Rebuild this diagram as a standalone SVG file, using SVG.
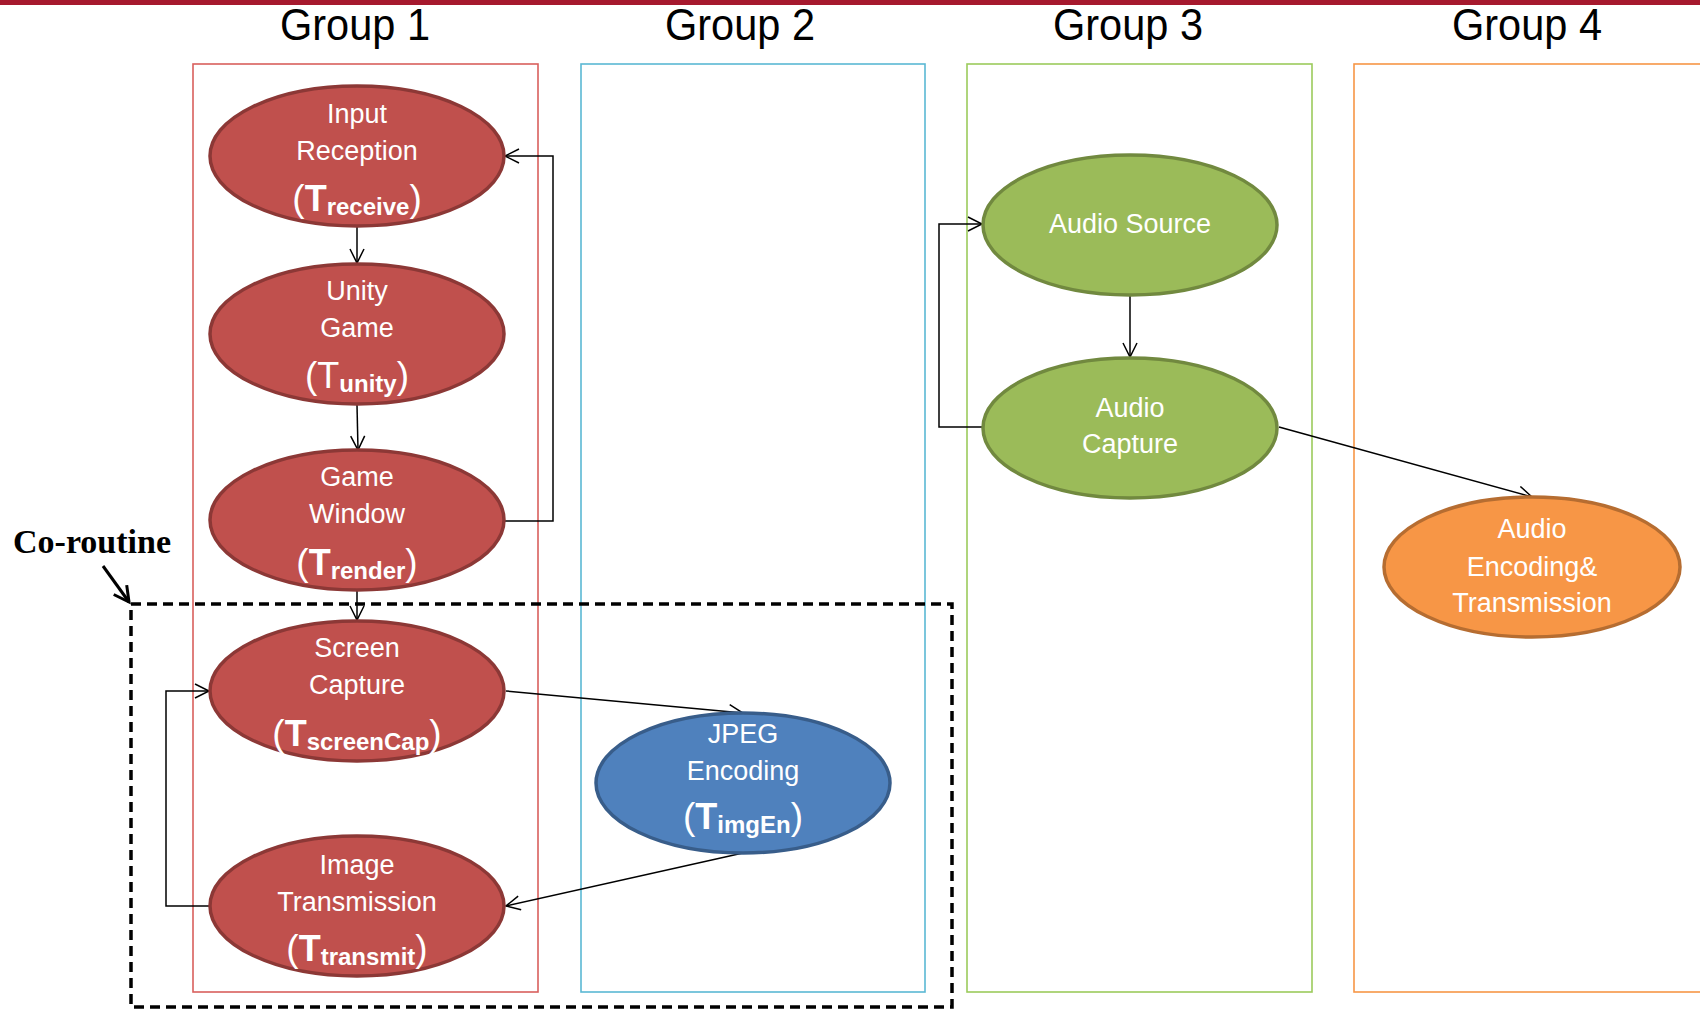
<svg xmlns="http://www.w3.org/2000/svg" width="1700" height="1009" viewBox="0 0 1700 1009">
<style>
.title{font-family:"Liberation Sans",Arial,sans-serif;font-size:44px;fill:#000;text-anchor:middle}
.lbl{font-family:"Liberation Sans",Arial,sans-serif;font-size:27px;fill:#fff;text-anchor:middle}
.p{font-size:37px;font-weight:normal}
.T{font-size:36px;font-weight:bold}
.Tn{font-size:36px;font-weight:normal}
.sub{font-size:24px;font-weight:bold}
.red{fill:#C0504D;stroke:#8C3836;stroke-width:3.5}
.blue{fill:#4F81BD;stroke:#385D8A;stroke-width:3.5}
.green{fill:#9BBB59;stroke:#71893F;stroke-width:3.5}
.orange{fill:#F79646;stroke:#B66D31;stroke-width:3.5}
.conn{fill:none;stroke:#000;stroke-width:1.5}
.grp{fill:none;stroke-width:1.6}
</style>
<defs>
<marker id="arr" markerUnits="userSpaceOnUse" markerWidth="20" markerHeight="20" refX="15" refY="8" orient="auto">
<path d="M1,1 L15,8 L1,15" fill="none" stroke="#000" stroke-width="1.5"/>
</marker>
<marker id="arrB" markerUnits="userSpaceOnUse" markerWidth="24" markerHeight="24" refX="17" refY="10" orient="auto">
<path d="M2,2 L17,10 L2,18" fill="none" stroke="#000" stroke-width="3"/>
</marker>
</defs>
<rect x="0" y="0" width="1700" height="5" fill="#A6192E"/>
<g id="titles">
<text class="title" x="355" y="40" textLength="150" lengthAdjust="spacingAndGlyphs">Group 1</text>
<text class="title" x="740" y="40" textLength="150" lengthAdjust="spacingAndGlyphs">Group 2</text>
<text class="title" x="1128" y="40" textLength="150" lengthAdjust="spacingAndGlyphs">Group 3</text>
<text class="title" x="1527" y="40" textLength="150" lengthAdjust="spacingAndGlyphs">Group 4</text>
</g>
<g id="groups">
<rect id="group1" class="grp" x="193" y="64" width="345" height="928" stroke="#D9605D"/>
<rect id="group2" class="grp" x="581" y="64" width="344" height="928" stroke="#5BB8D4"/>
<rect id="group3" class="grp" x="967" y="64" width="345" height="928" stroke="#9CCB5C"/>
<rect id="group4" class="grp" x="1354" y="64" width="350" height="928" stroke="#F79646"/>
</g>
<g id="coroutine">
<rect x="131" y="604" width="821" height="403" fill="none" stroke="#000" stroke-width="3.5" stroke-dasharray="10,6"/>
<text x="13" y="553" font-family="Liberation Serif,'Times New Roman',serif" font-weight="bold" font-size="34" fill="#000">Co-routine</text>
<line x1="103" y1="566" x2="129" y2="602" stroke="#000" stroke-width="3" marker-end="url(#arrB)"/>
</g>
<g id="connectors">
<line class="conn" x1="357" y1="226" x2="357" y2="263" marker-end="url(#arr)"/>
<line class="conn" x1="357" y1="405" x2="358" y2="450" marker-end="url(#arr)"/>
<line class="conn" x1="357" y1="591" x2="357" y2="620" marker-end="url(#arr)"/>
<polyline class="conn" points="505,521 553,521 553,156 505,156" marker-end="url(#arr)"/>
<line class="conn" x1="506" y1="691" x2="743" y2="713" marker-end="url(#arr)"/>
<line class="conn" x1="743" y1="853" x2="506" y2="906" marker-end="url(#arr)"/>
<polyline class="conn" points="209,906 166,906 166,691 209,691" marker-end="url(#arr)"/>
<line class="conn" x1="1130" y1="295" x2="1130" y2="357" marker-end="url(#arr)"/>
<polyline class="conn" points="982,427 939,427 939,224 982,224" marker-end="url(#arr)"/>
<line class="conn" x1="1279" y1="427" x2="1532" y2="497" marker-end="url(#arr)"/>
</g>
<g id="input-reception">
<ellipse class="red" cx="357" cy="156" rx="147" ry="70"/>
<text class="lbl" x="357" y="123">Input</text>
<text class="lbl" x="357" y="160">Reception</text>
<text class="lbl" x="357" y="211"><tspan class="p">(</tspan><tspan class="T">T</tspan><tspan class="sub" dy="4">receive</tspan><tspan class="p" dy="-4">)</tspan></text>
</g>
<g id="unity-game">
<ellipse class="red" cx="357" cy="334" rx="147" ry="70"/>
<text class="lbl" x="357" y="300">Unity</text>
<text class="lbl" x="357" y="337">Game</text>
<text class="lbl" x="357" y="388"><tspan class="p">(</tspan><tspan class="Tn">T</tspan><tspan class="sub" dy="4">unity</tspan><tspan class="p" dy="-4">)</tspan></text>
</g>
<g id="game-window">
<ellipse class="red" cx="357" cy="520" rx="147" ry="70"/>
<text class="lbl" x="357" y="486">Game</text>
<text class="lbl" x="357" y="523">Window</text>
<text class="lbl" x="357" y="575"><tspan class="p">(</tspan><tspan class="T">T</tspan><tspan class="sub" dy="4">render</tspan><tspan class="p" dy="-4">)</tspan></text>
</g>
<g id="screen-capture">
<ellipse class="red" cx="357" cy="691" rx="147" ry="70"/>
<text class="lbl" x="357" y="657">Screen</text>
<text class="lbl" x="357" y="694">Capture</text>
<text class="lbl" x="357" y="746"><tspan class="p">(</tspan><tspan class="T">T</tspan><tspan class="sub" dy="4">screenCap</tspan><tspan class="p" dy="-4">)</tspan></text>
</g>
<g id="image-transmission">
<ellipse class="red" cx="357" cy="906" rx="147" ry="70"/>
<text class="lbl" x="357" y="874">Image</text>
<text class="lbl" x="357" y="911">Transmission</text>
<text class="lbl" x="357" y="961"><tspan class="p">(</tspan><tspan class="T">T</tspan><tspan class="sub" dy="4">transmit</tspan><tspan class="p" dy="-4">)</tspan></text>
</g>
<g id="jpeg-encoding">
<ellipse class="blue" cx="743" cy="783" rx="147" ry="70"/>
<text class="lbl" x="743" y="743">JPEG</text>
<text class="lbl" x="743" y="780">Encoding</text>
<text class="lbl" x="743" y="829"><tspan class="p">(</tspan><tspan class="T">T</tspan><tspan class="sub" dy="4">imgEn</tspan><tspan class="p" dy="-4">)</tspan></text>
</g>
<g id="audio-source">
<ellipse class="green" cx="1130" cy="225" rx="147" ry="70"/>
<text class="lbl" x="1130" y="233">Audio Source</text>
</g>
<g id="audio-capture">
<ellipse class="green" cx="1130" cy="428" rx="147" ry="70"/>
<text class="lbl" x="1130" y="417">Audio</text>
<text class="lbl" x="1130" y="453">Capture</text>
</g>
<g id="audio-encoding">
<ellipse class="orange" cx="1532" cy="567" rx="148" ry="70"/>
<text class="lbl" x="1532" y="538">Audio</text>
<text class="lbl" x="1532" y="576">Encoding&amp;</text>
<text class="lbl" x="1532" y="612">Transmission</text>
</g>
</svg>
